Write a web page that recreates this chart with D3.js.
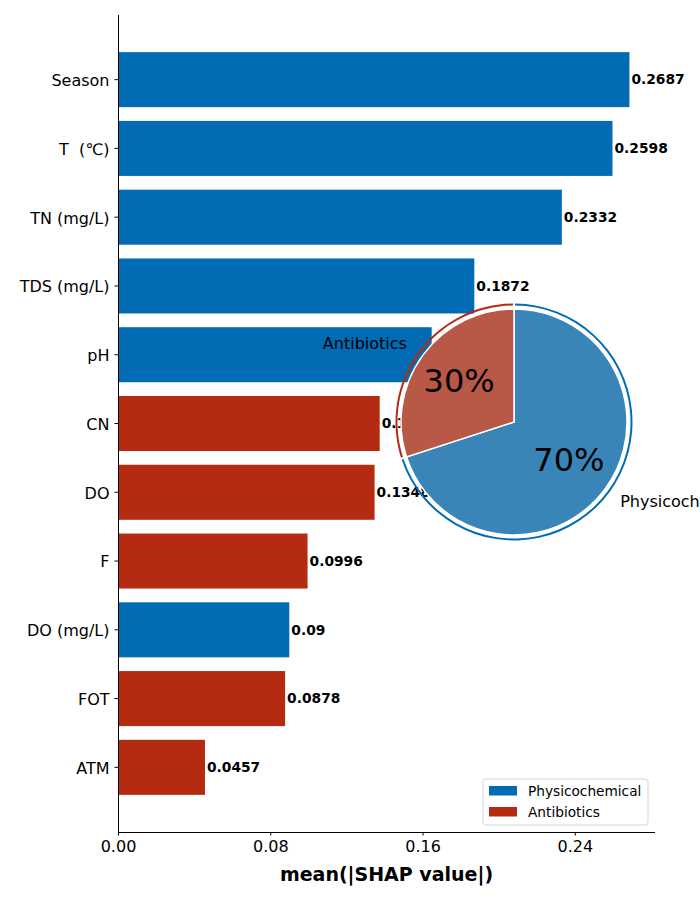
<!DOCTYPE html>
<html>
<head>
<meta charset="utf-8">
<script src="https://cdn.jsdelivr.net/npm/d3@7"></script>
<style>
  body { margin: 0; background: #fff; }
  text { font-family: "DejaVu Sans", sans-serif; }
</style>
</head>
<body>
<div id="chart"></div>
<script>
// feature names, top to bottom
var features = ['Season', 'T  (\u2103)', 'TN (mg/L)', 'TDS (mg/L)', 'pH', 'CN', 'DO', 'F', 'DO (mg/L)', 'FOT', 'ATM'];
var shapValues = [0.2687, 0.2598, 0.2332, 0.1872, 0.1648, 0.1375, 0.1348, 0.0996, 0.09, 0.0878, 0.0457];
var groups = ['Physicochemical', 'Physicochemical', 'Physicochemical', 'Physicochemical', 'Physicochemical',
              'Antibiotics', 'Antibiotics', 'Antibiotics', 'Physicochemical', 'Antibiotics', 'Antibiotics'];
var xTicks = [0, 0.08, 0.16, 0.24];

var pieLabels = ['Physicochemical', 'Antibiotics'];
var pieShares = [70, 30];

var barColors = { Physicochemical: '#016cb4', Antibiotics: '#b52b12' };
var pieColors = { Physicochemical: '#3985b7', Antibiotics: '#b85846' };

var width = 700, height = 900;
var margin = { top: 15, right: 45, bottom: 68, left: 118 };

var svg = d3.select('#chart').append('svg')
  .attr('width', width)
  .attr('height', height);

var x = d3.scaleLinear()
  .domain([0, d3.max(shapValues) * 1.05])
  .range([margin.left, width - margin.right]);

var y = d3.scaleBand()
  .domain(features)
  .range([margin.top, height - margin.bottom])
  .paddingInner(0.2)
  .paddingOuter(0.54);

// bars
svg.selectAll('rect.bar')
  .data(features)
  .enter()
  .append('rect')
  .attr('class', 'bar')
  .attr('x', x(0))
  .attr('y', function(d) { return y(d); })
  .attr('width', function(d, i) { return x(shapValues[i]) - x(0); })
  .attr('height', y.bandwidth())
  .style('fill', function(d, i) { return barColors[groups[i]]; });

// value labels
svg.selectAll('text.val')
  .data(features)
  .enter()
  .append('text')
  .attr('class', 'val')
  .attr('x', function(d, i) { return x(shapValues[i]) + 2; })
  .attr('y', function(d) { return y(d) + y.bandwidth() / 2; })
  .attr('dy', '0.35em')
  .style('font-size', '13.8px')
  .style('font-weight', 'bold')
  .text(function(d, i) { return shapValues[i]; });

// axes
var yAxis = svg.append('g')
  .attr('transform', 'translate(' + margin.left + ',0)')
  .call(d3.axisLeft(y).tickSize(3.5).tickPadding(5));
yAxis.select('.domain').attr('d', 'M0.5,' + margin.top + 'V' + (height - margin.bottom));
yAxis.selectAll('text').attr('dy', '0.4em').style('font-size', '16px').style('fill', '#000').style('white-space', 'pre');

var xAxis = svg.append('g')
  .attr('transform', 'translate(0,' + (height - margin.bottom) + ')')
  .call(d3.axisBottom(x).tickValues(xTicks).tickFormat(d3.format('.2f')).tickSize(3.5).tickPadding(5));
xAxis.select('.domain').attr('d', 'M' + margin.left + ',0.5H' + (width - margin.right));
xAxis.selectAll('text').style('font-size', '16px').style('fill', '#000');

svg.append('text')
  .attr('x', (margin.left + width - margin.right) / 2)
  .attr('y', 881)
  .attr('text-anchor', 'middle')
  .style('font-size', '19px')
  .style('font-weight', 'bold')
  .text('mean(|SHAP value|)');

// legend
var legend = svg.append('g').attr('transform', 'translate(483,779)');
legend.append('rect')
  .attr('width', 165).attr('height', 46).attr('rx', 3)
  .style('fill', '#fff').style('fill-opacity', 0.8)
  .style('stroke', '#d6d6d6');
var legendItems = ['Physicochemical', 'Antibiotics'];
legendItems.forEach(function(name, i) {
  legend.append('rect')
    .attr('x', 6).attr('y', 7 + i * 21)
    .attr('width', 28).attr('height', 9.5)
    .style('fill', barColors[name]);
  legend.append('text')
    .attr('x', 45).attr('y', 12 + i * 21)
    .attr('dy', '0.35em')
    .style('font-size', '13.7px')
    .text(name);
});

// inset pie
var cx = 514, cy = 422, r = 113;
var pieG = svg.append('g').attr('transform', 'translate(' + cx + ',' + cy + ')');
var pie = d3.pie().sort(null).value(function(d) { return d; });
var arcs = pie(pieShares);

pieG.selectAll('path.ring')
  .data(arcs)
  .enter()
  .append('path')
  .attr('class', 'ring')
  .attr('d', d3.arc().innerRadius(r + 3.5).outerRadius(r + 5.5).padAngle(0.012))
  .style('fill', function(d, i) { return barColors[pieLabels[i]]; });

pieG.selectAll('path.slice')
  .data(arcs)
  .enter()
  .append('path')
  .attr('class', 'slice')
  .attr('d', d3.arc().innerRadius(0).outerRadius(r))
  .style('fill', function(d, i) { return pieColors[pieLabels[i]]; })
  .style('stroke', '#fff')
  .style('stroke-width', 1.5);

var pctArc = d3.arc().innerRadius(r * 0.6).outerRadius(r * 0.6);
pieG.selectAll('text.pct')
  .data(arcs)
  .enter()
  .append('text')
  .attr('class', 'pct')
  .attr('transform', function(d) { return 'translate(' + pctArc.centroid(d) + ')'; })
  .attr('text-anchor', 'middle')
  .attr('dy', '0.3em')
  .style('font-size', '32px')
  .text(function(d) { return d.data + '%'; });

var labArc = d3.arc().innerRadius(r * 1.15).outerRadius(r * 1.15);
pieG.selectAll('text.plab')
  .data(arcs)
  .enter()
  .append('text')
  .attr('class', 'plab')
  .attr('transform', function(d, i) {
    var c = labArc.centroid(d);
    return 'translate(' + (c[0] + (i === 0 ? 1 : -2)) + ',' + (c[1] + (i === 0 ? 3 : -2)) + ')';
  })
  .attr('text-anchor', function(d) { return labArc.centroid(d)[0] < 0 ? 'end' : 'start'; })
  .attr('dy', '0.35em')
  .style('font-size', '16px')
  .text(function(d, i) { return pieLabels[i]; });
</script>
</body>
</html>
